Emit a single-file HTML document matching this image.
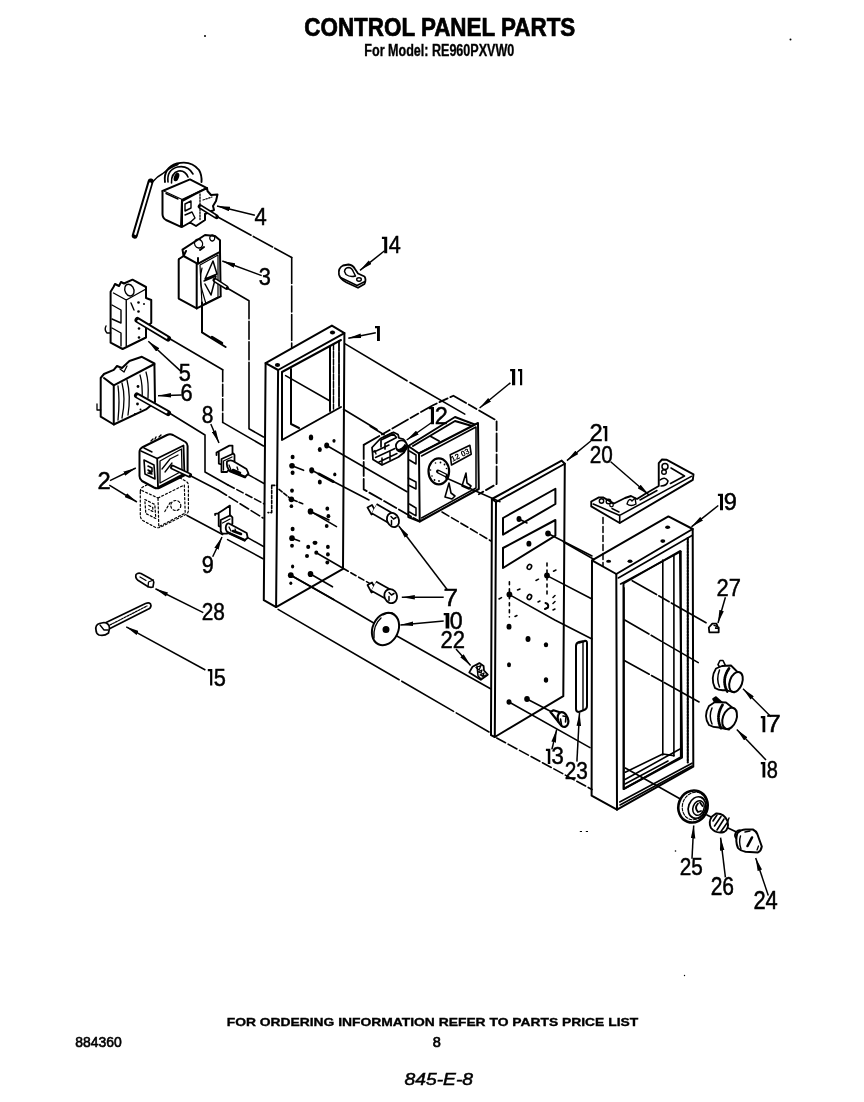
<!DOCTYPE html>
<html><head><meta charset="utf-8">
<style>
html,body{margin:0;padding:0;background:#fff;}
body{width:864px;height:1102px;overflow:hidden;position:relative;}
svg{position:absolute;left:0;top:0;will-change:transform;}
text{font-family:"Liberation Sans",sans-serif;fill:#000;}
</style></head><body>
<svg width="864" height="1102" viewBox="0 0 864 1102">
<defs>
<marker id="ah" viewBox="0 0 13 5" refX="13" refY="2.5" markerWidth="13" markerHeight="5" markerUnits="userSpaceOnUse" orient="auto"><path d="M0,0.2 L13,2.5 L0,4.8 z" fill="#000"/></marker>
</defs>
<rect width="864" height="1102" fill="#fff"/>
<!-- TITLES -->
<text x="304.3" y="36.2" font-size="25.5" font-weight="bold" textLength="271" lengthAdjust="spacingAndGlyphs" stroke="#000" stroke-width="0.7">CONTROL PANEL PARTS</text>
<text x="364.3" y="55.6" font-size="16" font-weight="bold" textLength="150" lengthAdjust="spacingAndGlyphs" stroke="#000" stroke-width="0.35">For Model: RE960PXVW0</text>
<text x="226.7" y="1026.2" font-size="10" font-weight="bold" textLength="411.5" lengthAdjust="spacingAndGlyphs" stroke="#000" stroke-width="0.3">FOR ORDERING INFORMATION REFER TO PARTS PRICE LIST</text>
<text x="75.3" y="1047.3" font-size="13.8" textLength="46.5" lengthAdjust="spacingAndGlyphs" stroke="#000" stroke-width="0.6">884360</text>
<text x="432.8" y="1047" font-size="14.5" stroke="#000" stroke-width="0.7">8</text>
<text x="404.5" y="1085" font-size="16" font-style="italic" textLength="68.5" lengthAdjust="spacingAndGlyphs" stroke="#000" stroke-width="0.5">845-E-8</text>
<circle cx="205" cy="36" r="1" fill="#000"/>
<circle cx="790.5" cy="39.5" r="1" fill="#000"/>
<circle cx="675.5" cy="851" r="0.8" fill="#000"/>
<circle cx="684.5" cy="975.5" r="0.7" fill="#000"/>
<rect x="579.8" y="831" width="2.2" height="1" fill="#000"/><rect x="585.8" y="831" width="2.2" height="1" fill="#000"/>
<g id="diagram" fill="none" stroke="#000" stroke-width="2" stroke-linejoin="round" stroke-linecap="round">

<!-- PART 4 thermostat -->
<g id="p4">
<path d="M150.6,181.5 L134.75,235.6" stroke-width="6"/>
<path d="M150.2,183.5 L135.3,234" stroke="#fff" stroke-width="2.2"/>
<path d="M153,181.5 C156,178 159,175.5 162.5,173.75 C167,170 172,166.5 178,164.5" stroke-width="1.4"/>
<path d="M165,182 Q163,168 177,163.5 Q191,160 199,170 Q202,175 201.5,182" stroke-width="1.9"/>
<path d="M168,182 Q166.5,170 177.5,167 Q188,165 193,174" stroke-width="1.6"/>
<path d="M171.5,183 Q171,173 178.5,171 Q185,170 188,177" stroke-width="1.6"/>
<ellipse cx="176.5" cy="177" rx="2.5" ry="4.5" fill="#000" stroke="none" transform="rotate(20 176.5 177)"/>
<path d="M162.5,191 L190,179.4 L207,188.1 L182,200 Z" fill="#fff"/>
<path d="M162.5,191 L162.5,214 Q162.5,218 166,220 L181,226.9 L182,200" fill="#fff"/>
<path d="M166,193.5 L178,199" stroke-width="1.4"/>
<path d="M182,201 L195,194 L207,188 L207.5,191 L211,195 L217.5,194.5 L216,201 L213,206 L214,210 L205,214 L205,220 L196,226 L190,222.5 L182,227 Z" fill="#fff"/>
<path d="M185,204 L191,201 L191,208 L185,211 Z" stroke-width="1.4"/>
<path d="M185,215 L192,212 L195,218 L190,222.5" stroke-width="1.4"/>
<path d="M200,194 L200,221" stroke-width="1.3" stroke-dasharray="1.5,1.5"/>
<path d="M203,200 L212,197" stroke-width="1.2" stroke-dasharray="1.5,1.5"/>
<path d="M200,206.5 L216.5,216.8" stroke-width="4.8"/>
<path d="M201,207.2 L215.8,216.3" stroke="#fff" stroke-width="1.5"/>
</g>
<!-- PART 3 switch -->
<g id="p3">
<path d="M182.5,249.6 L205,235 L215,236 L220,240.3 L220,251.8 L197.8,263.8 L183.6,256 Z" fill="#fff"/>
<path d="M184,255 L186,251 M198,263 L198,258 M200,250 L204,247"/>
<path d="M198.5,248 a4,4.5 -30 1,1 1,0 Z" stroke-width="1.3"/>
<path d="M212,241 a2.5,3 0 1,1 0.5,0 Z" stroke-width="1.3"/>
<path d="M178.7,259.4 L178.7,298.6 L196.7,308.4 L220.7,296.4 L220,251.8"/>
<path d="M179,259 L183.6,256 M196.7,263.8 L196.7,308.4"/>
<path d="M200,265 L218,255 L218,297 L202,305 Z" stroke-width="1.2"/>
<path d="M202,268 Q199,280 202,290 L206,304" stroke-width="1.2"/>
<path d="M213,261 L205,279 L217,274 Z M204,281 L216,276 L211,295 L205,284" stroke-width="1.5"/>
<path d="M214.7,280 L226.6,287.7" stroke-width="4.5"/>
<path d="M215.5,280.5 L226,287.2" stroke="#fff" stroke-width="1.5"/>
<path d="M202,302.4 L202,332.4 L225.6,347"/>
<path d="M212,337 L222,343" stroke-width="2.5"/>
</g>
<!-- PART 5 -->
<g id="p5">
<path d="M110.6,291.7 L113.5,287 L115,284 L119,286 L121,282 L124,283.5 L132.5,279.7 L146,287 L146,298 L151.25,300 L151.25,323 L146,327 L146,337.5 L122.6,349 L110.6,342.7 Z" fill="#fff"/>
<path d="M113.5,293 L126.25,300 L146,289 M126.25,300 L126.25,346" stroke-width="1.4"/>
<path d="M112,305 L121,310 L121,323 L112,319 M112,328 L121,333 L121,346" stroke-width="1.4"/>
<path d="M130,296 a4.5,6 -20 1,1 0.5,0 Z M131,303 L134,310" stroke-width="1.4"/>
<g fill="#000" stroke="none"><circle cx="138.5" cy="302.5" r="1.3"/><circle cx="138.5" cy="311.5" r="1.3"/><circle cx="139" cy="328.5" r="1.3"/><circle cx="139" cy="337.5" r="1.3"/><circle cx="144" cy="304" r="1"/></g>
<path d="M106,326 Q104,330 107,333 L110.6,333" stroke-width="1.4"/>
<path d="M137.5,320 L168,338.5" stroke-width="6"/>
<path d="M138.3,320.8 L166.5,337.6" stroke="#fff" stroke-width="2.2"/>
</g>
<!-- PART 6 -->
<g id="p6">
<path d="M100.7,378 L104,374 L113.75,369.8 L117,366 L122,368 L129.4,361 L141.9,356.8 L154.4,363.5 L155,402 L146,409.4 L113.75,424.5 L100.7,416.7 Z" fill="#fff"/>
<path d="M104,378 L113.75,385.4 L154.4,364 M113.75,385.4 L113.75,424.5"/>
<path d="M118,386 Q120,400 118,420 M122,383 Q126,398 122,418 M127,380 Q131,396 128,415" stroke-width="1.3"/>
<path d="M140,375 Q143,385 142,400 M146,372 Q149,382 148,398" stroke-width="1.3"/>
<path d="M97,404 L97,410 L100.7,410" stroke-width="1.3"/>
<path d="M120,369 L124,372 L127,366" stroke-width="1.3"/>
<path d="M137,395.5 L168,413" stroke-width="6"/>
<path d="M137.8,396.3 L166.5,412.2" stroke="#fff" stroke-width="2.2"/>
<g fill="#000" stroke="none"><circle cx="138" cy="386.5" r="1.4"/><circle cx="137.5" cy="404" r="1.4"/><circle cx="135" cy="414" r="1.1"/><circle cx="140.5" cy="409.5" r="1"/></g>
</g>
<!-- PART 2 -->
<g id="p2">
<g transform="translate(0.8,39.5)" stroke-width="1.2" stroke-dasharray="2,2.2" fill="none">
<path d="M139.5,452 Q139.5,449 142,447.5 L167,435 Q170,433.5 173,435 L185.5,442 Q187.6,443.5 187.6,446 L187.6,471 Q187.6,473.5 185,475 L160,487.5 Q157,489 154,487.5 L142,481 Q139.5,479 139.5,476 Z"/>
<path d="M157.2,458.5 L183.5,445.5 L184.4,473.6 L158,487.2 Z"/>
<path d="M144,460 L154,465 L155,479 L145,474 Z M148,466 L152,468 L152,472 L148,470"/>
<circle cx="175" cy="466" r="5"/>
<path d="M164,472 L170,462 M141,451 L157.2,458.5"/>
</g>
<path d="M139.5,452 Q139.5,449 142,447.5 L167,435 Q170,433.5 173,435 L185.5,442 Q187.6,443.5 187.6,446 L187.6,471 Q187.6,473.5 185,475 L160,487.5 Q157,489 154,487.5 L142,481 Q139.5,479 139.5,476 Z" fill="#fff" stroke-width="2"/>
<path d="M157.2,458.5 L183.5,445.5 L184.4,473.6 L158,487.2 Z" stroke-width="1.8"/>
<path d="M160,461 L181.5,449 L182,471 L160,483 Z" stroke-width="1.3"/>
<path d="M141,451 L157.2,458.5 M144,448 L152,452 M151,441 L153,439 M155,439 L156,437 M159,437 L161,435" stroke-width="1.4"/>
<path d="M144,460 L154,465 L155,479 L145,474 Z" stroke-width="1.6"/>
<path d="M148,466 L152,468 L152,472 L148,470 M148,470 L152,474 L148,473" stroke-width="1.6"/>
<path d="M162,469 L170,459 L178,455 M165,472 L172,463" stroke-width="1.3"/>
<path d="M172.6,467.2 L189.5,475.2" stroke-width="5"/>
<path d="M173,467.5 L189,475" stroke="#fff" stroke-width="1.8"/>
</g>

<!-- ROUTING LINES LEFT -->
<g id="routeL" stroke-width="1.6">
<path d="M216,216 L291.7,257.5" stroke-dasharray="40,2.5,22,2.5,200"/>
<path d="M291.7,257.5 L291.7,348" stroke-dasharray="26,2.5"/>
<path d="M226.6,287.7 L249,300.8 L249,428.8 L263.5,437" stroke-dasharray="44,2.5,18,2.5,18,2.5,200"/>
<path d="M168.5,338 L222.7,369.8"/>
<path d="M222.7,369.8 L222.7,422.4" stroke-dasharray="12,2.5"/>
<path d="M222.7,422.4 L263.5,446"/>
<path d="M168.5,412.5 L205,435 L205,472 L228,485"/>
<path d="M228,485 L264.4,504" stroke-dasharray="7,3"/>
<path d="M189.5,475.2 L218,490"/>
<path d="M218,490 L263,518" stroke-dasharray="10,3"/>
<path d="M187,515.5 L222.6,534.5"/>
<path d="M227.6,539.6 L263,558.7"/>
</g>


<!-- PANEL 1 HOLES -->
<g id="p1holes" fill="#000" stroke="none">
<ellipse cx="311" cy="437.4" rx="2.2" ry="2.9"/>
<ellipse cx="319.8" cy="449.5" rx="2.0" ry="2.5"/>
<ellipse cx="326.7" cy="445.5" rx="2.5" ry="2.9"/>
<ellipse cx="334" cy="440.8" rx="1.6" ry="1.9"/>
<ellipse cx="292.6" cy="457" rx="2.0" ry="2.2"/>
<ellipse cx="292" cy="465.7" rx="2.8" ry="2.8"/>
<ellipse cx="292.6" cy="472.7" rx="2.0" ry="2.2"/>
<ellipse cx="311.7" cy="470.3" rx="2.5" ry="3.1"/>
<ellipse cx="334.8" cy="474.4" rx="1.6" ry="1.9"/>
<ellipse cx="319.8" cy="482" rx="2.0" ry="2.5"/>
<ellipse cx="292" cy="490.6" rx="1.9" ry="2.2"/>
<ellipse cx="291.4" cy="499.3" rx="2.8" ry="2.9"/>
<ellipse cx="291.4" cy="506.2" rx="1.8" ry="1.9"/>
<ellipse cx="310.5" cy="511.4" rx="2.8" ry="3.1"/>
<ellipse cx="327.3" cy="508.7" rx="1.9" ry="2.1"/>
<ellipse cx="328.4" cy="516.2" rx="1.9" ry="2.1"/>
<ellipse cx="326.7" cy="526" rx="1.9" ry="2.1"/>
<ellipse cx="292.6" cy="529" rx="2.0" ry="2.2"/>
<ellipse cx="292" cy="538.2" rx="2.8" ry="2.9"/>
<ellipse cx="292" cy="545.7" rx="1.9" ry="2.0"/>
<ellipse cx="315" cy="542.8" rx="2.5" ry="2.1"/>
<ellipse cx="308.2" cy="546.9" rx="2.0" ry="2.1"/>
<ellipse cx="307" cy="556" rx="2.0" ry="2.1"/>
<ellipse cx="316.3" cy="552.7" rx="2.0" ry="2.1"/>
<ellipse cx="327.9" cy="546.9" rx="1.9" ry="2.1"/>
<ellipse cx="327.9" cy="554.4" rx="1.9" ry="2.1"/>
<ellipse cx="327.3" cy="562.5" rx="1.9" ry="2.0"/>
<ellipse cx="292.6" cy="566.5" rx="1.6" ry="1.9"/>
<ellipse cx="290.8" cy="575.2" rx="2.9" ry="2.9"/>
<ellipse cx="290.8" cy="583.3" rx="1.5" ry="1.8"/>
<ellipse cx="310.5" cy="574" rx="2.8" ry="3.1"/>
</g>
<!-- PANEL 1 LINES through -->
<g id="p1lines" stroke-width="1.6">
<path d="M285.6,375.6 L330,401"/>
<path d="M343.5,409.3 L377,429.5"/>
<path d="M370.2,426.2 L384.1,434.8"/>
<path d="M345.2,343.9 L407,380.8 M410,382.5 L464.8,414.1"/>
<path d="M326.7,445.5 L407,491.75"/>
<path d="M292,465.7 L303.6,470.3"/>
<path d="M311.7,470.3 L343,486.5 L369,500" />
<path d="M319,474 L333,481.5" stroke-width="3"/>
<path d="M279,489.4 L291.4,499.3 L303.6,504" stroke-dasharray="4,2"/>
<path d="M310.5,511.4 L329,520"/>
<path d="M310.5,511.4 L336.5,526.6"/>
<path d="M292,538.2 L299.5,541"/>
<path d="M316.3,552.7 L343,568.3"/>
<path d="M343,568.3 L370.5,583.9" stroke-dasharray="6,3"/>
<path d="M290.8,575.2 L333.7,599.5"/>
<path d="M310.5,574 L332.5,586.8"/>
<path d="M290.8,575.2 L340,603.3 L373.3,622.8" stroke-dasharray="0"/>
<path d="M385.8,629.7 L491,689"/>
<path d="M278.1,609.4 L489,732" stroke-dasharray="140,3,60,3,40,3,300"/>
<path d="M271.7,485.4 L277,485.4 M271.7,485.4 L271.7,512.6 L268,512.6" stroke-dasharray="3,2"/>
</g>
<!-- PART 11 bracket dashed + timer -->
<g id="p11">
<path d="M363.7,444.9 L433,405.2 L453.4,395.7 L496.6,420.5 L496.6,484 L478.8,494.2" stroke-dasharray="18,3,9,3" stroke-width="1.8"/>
<path d="M363.7,444.9 L363.7,489.4 L419,521" stroke-dasharray="14,3" stroke-width="1.8"/>
<path d="M408.3,446 L455,417 L476,425 L419,453.5 Z" fill="#fff"/>
<path d="M413,446 L455,421 L472,426 M430,436 L439,441"/>
<path d="M408.3,446 L408.3,517 L419.7,521.5"/>
<path d="M409.4,451 L416,455 L416,464 L409.4,460 M408.3,478 L416,482 L416,489 L408.3,485 M409.4,504 L416,508 L416,515.8 L409.4,512" stroke-width="1.5"/>
<path d="M419,453.5 L478,423 L478.8,489 L419.7,521.5 Z" fill="#fff"/>
<path d="M421.5,456 L476,427 L476,488 L421.5,518" stroke-width="1.5"/>
<ellipse cx="438.8" cy="471.3" rx="10.3" ry="13" stroke-width="2.2"/>
<g fill="#000" stroke="none"><circle cx="440.5" cy="462.5" r="0.9"/><circle cx="444.5" cy="464.5" r="0.9"/><circle cx="446.5" cy="468.5" r="0.8"/><circle cx="432" cy="476" r="0.8"/><circle cx="434.5" cy="480" r="0.9"/><circle cx="439" cy="481" r="0.9"/><circle cx="430.5" cy="470" r="0.8"/><circle cx="435.5" cy="463" r="0.8"/></g>
<path d="M438,471.5 L446,475.5" stroke-width="4"/>
<path d="M438.8,471.9 L445.3,475.1" stroke="#fff" stroke-width="1.4"/>
<path d="M445.7,477.7 L500,501.8" stroke-width="1.5"/>
<path d="M450.2,454.8 L469.9,445.3 L471.2,454.2 L451.5,465 Z" stroke-width="1.6"/>
<text transform="translate(452.5,462) rotate(-27)" font-size="8" fill="#000" stroke="none" font-weight="bold">12 03</text>
<path d="M449,483 L445,497 L452,499 L455,496 L451,493 Z M466,473 L462,486 L469,489 L471,486 L467,483 Z" stroke-width="1.6"/>
</g>
<path d="M442,512 L491,541" stroke-dasharray="8,3" stroke-width="1.6"/>
<!-- PART 12 clip -->
<g id="p12" stroke-width="1.8">
<path d="M372,447.5 L380.5,438.5 L393.5,432.3 L398,434.5 L399,438 L403,439 Q407,442 406.5,448 L404,452.5 L398.5,457 L382,465 L373,459.5 L372.5,452 Z" fill="#fff"/>
<path d="M381,447 L381,440 L393.5,434 L396.5,437.5 L385,443.5 L385,449" stroke-width="1.7"/>
<path d="M384,437 L392,433" stroke-width="1.5"/>
<circle cx="401.5" cy="446" r="5.6" fill="#fff" stroke-width="1.8"/>
<path d="M396.5,449.5 Q401,455 406.5,447.5 L405,444.5 Q402,450 396.5,449.5 Z" fill="#000" stroke-width="1.2"/>
<path d="M374,452 L389,445 M375.5,457.5 L395,448.5 M379,462 L397,453.5 M382,458 L382,464.5 M390,452 L390,460" stroke-width="1.5"/>
<path d="M372.5,452 L375,450.5 L376,454" stroke-width="1.3"/>
</g>
<!-- PLUNGERS 7 -->
<g id="p7">
<path d="M367.5,507.5 L372,505 L376,512 L371.5,514.5 Z" fill="#fff" stroke-width="1.7"/>
<path d="M374,508.5 L393,519.5" stroke-width="12" stroke-linecap="butt"/>
<path d="M374.3,508.7 L393,519.5" stroke="#fff" stroke-width="8.6" stroke-linecap="butt"/>
<ellipse cx="393" cy="520" rx="5.8" ry="7.3" transform="rotate(-25 393 520)" fill="#fff" stroke-width="1.8"/>
<path d="M391,516.5 L393.5,519 L396,517.5 M391.5,524.5 L391.5,520.5" stroke-width="1.5"/>
<path d="M367.5,585 L372,582.5 L376,590 L371.5,592.5 Z" fill="#fff" stroke-width="1.7"/>
<path d="M373.5,586 L390.5,595.5" stroke-width="12" stroke-linecap="butt"/>
<path d="M373.8,586.2 L390.5,595.5" stroke="#fff" stroke-width="8.6" stroke-linecap="butt"/>
<ellipse cx="390.7" cy="596.1" rx="6.2" ry="7.2" transform="rotate(-25 390.7 596.1)" fill="#fff" stroke-width="1.8"/>
<path d="M389,592.5 L391.5,595 L394,593.5 M389,600.5 L389,596.5" stroke-width="1.5"/>
</g>
<!-- DISK 10 -->
<g id="p10">
<ellipse cx="385.5" cy="629" rx="12.8" ry="16.8" transform="rotate(25 385.5 629)" fill="#fff"/>
<path d="M374,638 Q373,625 381,618 M383,615 Q390,611 394,614" stroke-width="1.4"/>
<ellipse cx="386" cy="629.5" rx="2.5" ry="2.5" fill="#000"/>
</g>
<!-- PART 22 -->
<g id="p22" stroke-width="1.8">
<path d="M469.3,672.4 L472.5,666.8 L479.4,663.1 L483.6,665.9 L484,670.5 L487.8,674.7 L480.8,679.8 Z" fill="#fff"/>
<path d="M476,667.5 L481,665.5 L479,670 Z M478,672 L482,670 L481,673 Z M480,675 L484,673 L483,676 Z M482,677 L486,675" stroke-width="1.3"/>
<path d="M477,666 L478,676 L481,679" stroke-width="1.5"/>
</g>


<!-- PANEL 21 HOLES & LINES -->
<g id="p21holes" fill="#000" stroke="none">
<ellipse cx="519" cy="519" rx="2.5" ry="2.9"/>
<ellipse cx="528.9" cy="543.7" rx="2.5" ry="2.9"/>
<ellipse cx="548" cy="533.5" rx="2.8" ry="2.9"/>
<ellipse cx="547" cy="575.6" rx="2.9" ry="3.0"/>
<ellipse cx="509.4" cy="594.6" rx="2.9" ry="3.0"/>
<ellipse cx="509" cy="626.7" rx="2.5" ry="2.9"/>
<ellipse cx="528" cy="639" rx="2.5" ry="2.9"/>
<ellipse cx="546" cy="644.8" rx="2.2" ry="2.5"/>
<ellipse cx="509" cy="664.8" rx="2.0" ry="2.5"/>
<ellipse cx="546" cy="680" rx="2.2" ry="2.8"/>
<ellipse cx="509" cy="702" rx="2.5" ry="2.8"/>
<ellipse cx="527" cy="699" rx="2.8" ry="3.0"/>
</g>
<g id="p21lines" stroke-width="1.6">
<ellipse cx="529.4" cy="566.9" rx="2" ry="2.6" transform="rotate(30 529.4 566.9)"/>
<ellipse cx="529.4" cy="597" rx="2" ry="2.6" transform="rotate(30 529.4 597)"/>
<path d="M545.5,603 Q549,604 548,607.5 L545,609" stroke-width="2"/>
<path d="M519,519 L527,523"/>
<path d="M509.4,581.7 L509.4,617 M547,563 L547,597.4" stroke-dasharray="3,4"/>
<path d="M517.5,590 L520,589 M536,580.5 L538.5,579.2 M553.5,571.2 L556,570 M499,599 L501.5,597.6 M538,602 L540,601 M553,597.5 L555,595.5 M553,603.5 L555,601.5 M515,616.5 L517,615.5 M553,610 L555,609" stroke-width="1.5"/>
<path d="M548,533.5 L592,556"/>
<path d="M547,575.6 L592,599"/>
<path d="M509.4,594.6 L554.8,620 L592,639" />
<path d="M509,702 L590,747.6"/>
<path d="M527,699 L553.8,713"/>
<path d="M496.7,738 L592,789.5" stroke-dasharray="10,3"/>
<path d="M593.3,559 L563.5,542"/>
</g>
<!-- PART 13 screw -->
<g id="p13" stroke-width="2.2">
<path d="M550.5,712 L553.5,710.3 L559,712 L563,716 L558.5,722 Z" fill="#fff"/>
<ellipse cx="563" cy="719.5" rx="5" ry="7.6" transform="rotate(-20 563 719.5)" fill="#fff"/>
<path d="M560.5,719 L561.5,725 M563,716 L566,716.5 L565.5,722" stroke-width="1.6"/>
</g>
<!-- PART 23 rod -->
<g id="p23">
<path d="M576,646 L576,709 Q576,712 579,712 L584,710 Q587,709 587,706 L587,643 Q587,640 584,641 L579,642 Q576,643 576,646 Z" fill="#fff"/>
<path d="M583,641.5 L583,709.5" stroke-width="1.4"/>
<path d="M579,643 L586,641" stroke-width="1.4"/>
</g>
<!-- PART 20 bracket -->
<g id="p20" stroke-width="1.9">
<path d="M591.25,501.5 L598.9,497.4 L603,497.4 L614,503.5 L625,498 L631,496 L637,499 L645,494 L658.75,486 L658.75,463.2 L662,459.5 L666.4,459.7 L693.5,474.3 L692.8,479.9 L619.7,523 L591.25,506.4 Z" fill="#fff"/>
<path d="M593.3,504 L619.7,515.4 L691.4,476.4 M619.7,515.4 L619.7,523" stroke-width="1.6"/>
<path d="M612,508.5 L619,512 M640,500 L657,490.5" stroke-width="1.5"/>
<path d="M671,468 L684.5,476 L670.5,483.5" stroke-width="1.6"/>
<circle cx="601.5" cy="501" r="2.2" stroke-width="1.4"/>
<circle cx="608.5" cy="501.5" r="2.3" stroke-width="1.4"/>
<circle cx="611.5" cy="505" r="1.8" stroke-width="1.3"/>
<path d="M627,504 Q629,497 632,501 L635,498 L636,504 Q631,507 627,504 Z" stroke-width="1.4"/>
<circle cx="665" cy="466.5" r="3" stroke-width="1.5"/>
<circle cx="664" cy="472" r="2.3" stroke-width="1.4"/>
<path d="M660,480 Q665,476 668,481 Q667,486 661,486" stroke-width="1.5"/>
<path d="M603,517.5 L603,566" stroke-dasharray="6,3" stroke-width="1.5"/>
</g>
<!-- FRAME 19 details -->
<g id="p19d" stroke-width="1.6">
<path d="M618.3,578 L692,535.5 M620.6,584 L680.8,551.5"/>
<path d="M623.9,588 L623.9,789 L680.8,757 L680.8,551.5" stroke-width="1.8"/>
<path d="M662.8,560 L662.8,755 M673.9,555 L673.9,756"/>
<path d="M625.3,772.2 L662.8,754 L673.9,755.6 M625,779.5 L680,749 M625,784 L668,761"/>
<path d="M687.8,538 L687.8,762.5" stroke-dasharray="2,1.2" stroke-width="2.2"/>
<path d="M619.7,802 L692,763.2 M620,805 L692,766"/>
<ellipse cx="608.6" cy="561.25" rx="2.5" ry="1.6" fill="#000" stroke="none"/>
<ellipse cx="630" cy="561.25" rx="2.5" ry="1.8" fill="#000" stroke="none"/>
<ellipse cx="662.8" cy="541.1" rx="2.5" ry="1.8" fill="#000" stroke="none"/>
<ellipse cx="667.6" cy="527.2" rx="2.5" ry="1.7" fill="#000" stroke="none"/>
<path d="M632.2,580.7 L710,625" stroke-dasharray="28,2.5,12,2.5,40"/>
<path d="M624.75,620 L712.6,671" stroke-dasharray="28,2.5,12,2.5,40"/>
<path d="M624.75,660.7 L707.5,706.6" stroke-dasharray="28,2.5,12,2.5,40"/>
<path d="M625.3,768 L680.8,799.3"/>
</g>
<!-- PART 27 -->
<path d="M709.3,632.3 L708.8,627.5 L712.3,623.6 L716.5,623.6 L717.8,627 L718.7,627.6 L718.7,632.3 Z" fill="#fff" stroke-width="1.8"/>
<path d="M714,625.3 L716.5,626.2 L715.5,628.3 L718.5,628.3" stroke-width="1.3"/>
<!-- KNOBS 17/18 -->
<g id="k17" stroke-width="1.8">
<path d="M718,664.5 L720,660.5 L723,660.5 L727,668.8 L721,669.5 Z" fill="#fff" stroke-width="1.6"/>
<path d="M716,668.5 Q710,678 715,688 Q719,691 726,690 L734,692.5 L741.5,676 L731,665.5 L722,666 Z" fill="#fff"/>
<path d="M719.5,670 Q716,679 719.5,687" stroke-width="1.5"/>
<path d="M729,668.5 Q721,680 727.5,692" stroke-width="2.8" stroke-dasharray="1.3,1"/>
<ellipse cx="736" cy="682" rx="6.2" ry="10.4" transform="rotate(20 736 682)" fill="#fff" stroke-width="2"/>
</g>
<g id="k18" stroke-width="1.8">
<path d="M713,699 L716,697 L725,705 L718,708 Z" fill="#000" stroke-width="1.6"/>
<path d="M709,706 Q703,716 709,725 Q713,727.5 719,727.5 L729,729.7 L736.5,711 L726,702.5 L715,702 Z" fill="#fff"/>
<path d="M712,708 Q708.5,716 712,724" stroke-width="1.5"/>
<path d="M722.5,705 Q715,717 721.5,729" stroke-width="2.8" stroke-dasharray="1.3,1"/>
<ellipse cx="729.6" cy="718.4" rx="6.8" ry="11" transform="rotate(20 729.6 718.4)" fill="#fff" stroke-width="2"/>
</g>
<!-- KNOB 25, SPRING 26, KNOB 24 -->
<g id="k25" stroke-width="1.8">
<ellipse cx="693" cy="806.5" rx="14.5" ry="16.2" transform="rotate(20 693 806.5)" fill="#fff" stroke-width="2.6"/>
<ellipse cx="694.5" cy="806" rx="12" ry="14" transform="rotate(20 694.5 806)" stroke-width="1.1" stroke-dasharray="3,1.5"/>
<ellipse cx="697" cy="807.5" rx="8.5" ry="11" transform="rotate(20 697 807.5)" stroke-width="1.7"/>
<ellipse cx="698.5" cy="808" rx="5.5" ry="7.5" transform="rotate(20 698.5 808)" stroke-width="1.5"/>
<path d="M698,803.5 Q694,808 698,812 L701,811 M700,802.5 L702.5,806" stroke-width="1.8"/>
<path d="M707,815 L711,817"/>
<path d="M712,816.5 Q708,822 711,828 Q716,834 724,832 Q729.5,829 727.5,821 Q724,813 716,813.5 Z" fill="#fff" stroke-width="1.9"/>
<path d="M713,821 L717,815 M714.5,826 L721,816.5 M717,830 L724,819 M721,831.5 L727,823" stroke-width="1.6"/>
<path d="M727.5,822 L729,818" stroke-width="1.4"/>
<path d="M728,828 L736.5,832"/>
<ellipse cx="739" cy="834.8" rx="3.8" ry="4.6" transform="rotate(25 739 834.8)" fill="#fff" stroke-width="1.9"/>
<path d="M737.3,833.2 Q741,829.5 745.5,829.5 L752.9,829.5 Q756,831 757.3,834 L761.8,846.5 Q761,851 758,852.4 L745.5,851.7 Q740,850.5 738,848 Q735,841 737.3,833.2 Z" fill="#fff" stroke-width="2"/>
<path d="M740.5,836 Q738.5,842 741,849 M745,832 L750,831" stroke-width="1.4"/>
<path d="M752,837.5 L747.5,846" stroke-width="2.6"/>
<path d="M758.5,846 L757,850" stroke-width="1.3"/>
</g>
<!-- PART 14 -->
<g id="p14" stroke-width="1.8">
<path d="M339,274.5 Q338,268 343,265.5 L348.5,264.5 Q353,265 355,269 L358,273.5 L364.5,276.5 Q366.5,279.5 364.5,284 L358,287.8 L346.5,282.5 Q340,279 339,274.5 Z" fill="#fff"/>
<path d="M344.5,271.5 Q345,267.5 349,267.5 Q352,268 353.5,272 L355.5,276 Q350,277.5 346,274.5 Z" stroke-width="1.5"/>
<path d="M340.5,277.5 L357,285.5 L365,281.5" stroke-width="1.4"/>
<ellipse cx="359" cy="279.5" rx="2.3" ry="1.7" stroke-width="1.4"/>
</g>
<!-- PART 8 / 9 screws -->
<g id="p8" stroke-width="1.8">
<path d="M216.5,455 L216.5,452.5 L229.4,445.6 L232.5,445.6 L232.5,454 M218.8,452.5 L218.8,463.6 L221.5,464.5"/>
<path d="M221.5,472 L221.5,459 L233.5,453.5 L234.5,455 L234.5,462 L227,472 Z" fill="#fff"/>
<path d="M223.5,470 L223.5,461 L232,457" stroke-width="1.3"/>
<path d="M227,461.5 Q230,459.5 233,461 L246.5,469 L248.5,473.5 L245,477 L230,471 Q226,467 227,461.5 Z" fill="#fff"/>
<path d="M230,471 L245,477 M233,470 L240,473" stroke-width="2.6"/>
<path d="M229,465 L231,470 M237,467 L238,470" stroke-width="1.3"/>
</g>
<g id="p9" stroke-width="1.8">
<path d="M215.1,515 L215.1,513.8 L218.2,513.3 L229.9,505.6 L229.9,515.3 M218.7,513.3 L218.7,526 L220.7,527"/>
<path d="M220.7,531 L220.7,520 L230.4,515.3 L232.4,517.4 L232.4,523.5 L227.3,533.6 L222,533.6 Z" fill="#fff"/>
<path d="M222.5,523 L230,519" stroke-width="1.3"/>
<path d="M226,526 Q227,523 229,523.5 L246.7,533 L247.7,537.7 L244.7,540.3 L228,532.6 Q225,530 226,526 Z" fill="#fff"/>
<path d="M228,532.6 L244.7,540.3 M233,531 L241,534" stroke-width="2.6"/>
<path d="M229,527 L231,531 M235,529 L236,532" stroke-width="1.3"/>
</g>
<g stroke-width="1.5">
<path d="M248,474.5 L264,483.5" />
<path d="M247.7,537.7 L263.5,546.5" />
</g>
<!-- PART 28 -->
<g id="p28" stroke-width="1.6">
<path d="M136,574.5 Q135,578 137.5,580 L147,586 Q150,588 153,587 L153.8,582 Q153.5,580 151,579 L141,573.5 Q138,572.5 136,574.5 Z" fill="#fff"/>
<path d="M148,587 L148.5,582 L153.5,580 M140,577 L146,580.5" stroke-width="1.3"/>
</g>
<!-- PART 15 -->
<g id="p15" stroke-width="1.7">
<path d="M104,623.5 L145.5,603.5 Q150.5,601.8 151,605.5 Q151,608.3 147.5,609.5 L107,630" fill="#fff"/>
<path d="M107,626.5 L147,606" stroke-width="1.2" stroke-dasharray="2,1.2"/>
<path d="M96,630 Q95,625 99.5,623.5 L104,622.5 Q109,623 109.5,628 L108.5,633 Q104,636.5 99,635 Q96,633.5 96,630 Z" fill="#fff"/>
<path d="M100,625 L104,630 L108,630" stroke-width="1.3"/>
</g>

<!-- PANEL 1 -->
<path d="M265.6,363.1 L331.9,325.6 L344.4,333.1 L278.1,370 Z"/>
<path d="M265.6,363.1 L263.8,600.2 L276.1,607.1 L343,568.9 L344.4,333.1"/>
<path d="M278.1,370 L276.1,607.1"/>
<path d="M282,372 L341,340 M282,372 L282,440 L341,407"/>
<path d="M291,369 L291,424 L299,428"/>
<path d="M330,346 L330,411"/>
<path d="M333.5,344 L333.5,409" stroke-width="1.4" stroke-dasharray="6,1.5"/>
<path d="M339,341 L339,406" stroke-width="1.8" stroke-dasharray="10,1.5"/>
<ellipse cx="277.5" cy="365" rx="2.6" ry="1.9" fill="#000" stroke="none"/>
<ellipse cx="332.5" cy="332.5" rx="2.6" ry="1.9" fill="#000" stroke="none"/>
<!-- PANEL 21 -->
<path d="M491.9,499 L561.7,460.6 L564.8,463.75 L496,502 Z"/>
<path d="M491.9,499 L491,735.2 L494.8,737 L563.3,696.2 L564.8,463.75"/>
<path d="M496,502 L494.8,737"/>
<path d="M503,518 L555.4,488.75 L555.4,504 L503,534.6 Z"/>
<path d="M503,548 L555.4,520 L555.4,535.6 L503,568 Z"/>
<!-- FRAME 19 -->
<path d="M592,560.4 L668.4,516.4 L692.7,529 L616.3,574 Z"/>
<path d="M592,560.4 L591.6,795.7 L617,809.7 L693.3,766.7 L692.7,529"/>
<path d="M616.3,574 L617,809.7"/>
<path d="M623.5,583.5 L680,551 L682,757.5 L623.5,789 Z"/>
</g>

<g id="arrows" fill="none" stroke="#000" stroke-width="1.5" marker-end="url(#ah)">
<path d="M254.9,215.3 L217,206"/>
<path d="M261.7,275.6 L222.3,261"/>
<path d="M375.8,332.7 L348.3,338.3"/>
<path d="M384.6,250.75 L360,270.3"/>
<path d="M181,371.4 L148.3,341.2"/>
<path d="M181.7,395 L158,395.7"/>
<path d="M210.8,424 L219,443"/>
<path d="M110,480.6 L135.8,468"/>
<path d="M109.3,485.1 L136.9,502"/>
<path d="M212.7,556.7 L222,537"/>
<path d="M203.3,612.7 L155.4,588.75"/>
<path d="M205.4,670 L126.25,626.8"/>
<path d="M510.4,382.8 L479.6,408"/>
<path d="M431.7,422.5 L406.7,440"/>
<path d="M590.8,441 L566.9,460.6"/>
<path d="M610.7,461.8 L649,495"/>
<path d="M718.3,505.5 L691.5,526.8"/>
<path d="M725.4,597.3 L718,623"/>
<path d="M447.5,590 L398.75,526"/>
<path d="M443.7,597.3 L401.8,597.3"/>
<path d="M443.7,621 L400.4,625"/>
<path d="M456,649 L470.6,665.4"/>
<path d="M771,716.8 L743,688.75"/>
<path d="M766,760 L736.8,729.5"/>
<path d="M551.9,749.4 L556.7,729.5"/>
<path d="M576.9,761.6 L579.5,713"/>
<path d="M692,858.7 L693.7,825.5"/>
<path d="M725.4,877.4 L720.6,837.6"/>
<path d="M768.3,895.5 L755.7,858"/>
</g>
<g id="labels" font-size="22" stroke="#000" stroke-width="0.45" fill="#000">
<text transform="matrix(1.000,0,0,1.060,254.60,224.50)">4</text>
<text transform="matrix(0.991,0,0,1.120,258.71,284.50)">3</text>
<path d="M375.0,326.0 L379.9,326.0 L379.9,341.1 L377.0,341.1 L377.0,328.3 L375.0,328.3 Z" stroke="none"/>
<path d="M381.9,236.8 L387.2,236.8 L387.2,253.2 L384.2,253.2 L384.2,239.1 L381.9,239.1 Z" stroke="none"/>
<text transform="matrix(0.983,0,0,1.120,388.70,253.30)">4</text>
<text transform="matrix(0.991,0,0,1.100,178.71,381.20)">5</text>
<text transform="matrix(0.991,0,0,1.047,180.51,401.30)">6</text>
<text transform="matrix(0.955,0,0,1.053,201.75,422.50)">8</text>
<text transform="matrix(1.080,0,0,1.127,97.52,489.40)">2</text>
<text transform="matrix(0.982,0,0,1.120,201.72,572.50)">9</text>
<text transform="matrix(0.948,0,0,1.053,201.65,620.40)">28</text>
<path d="M207.8,669.0 L212.3,669.0 L212.3,685.4 L210.1,685.4 L210.1,671.3 L207.8,671.3 Z" stroke="none"/>
<text transform="matrix(0.991,0,0,1.120,213.71,685.50)">5</text>
<path d="M510.1,368.9 L515.2,368.9 L515.2,385.3 L512.0,385.3 L512.0,371.2 L510.1,371.2 Z" stroke="none"/>
<path d="M518.0,368.9 L522.2,368.9 L522.2,385.3 L520.0,385.3 L520.0,371.2 L518.0,371.2 Z" stroke="none"/>
<path d="M428.9,406.9 L434.0,406.9 L434.0,424.3 L430.9,424.3 L430.9,409.2 L428.9,409.2 Z" stroke="none"/>
<text transform="matrix(1.070,0,0,1.047,434.63,424.40)">2</text>
<text transform="matrix(1.080,0,0,1.053,589.52,441.40)">2</text>
<path d="M603.1,425.9 L607.3,425.9 L607.3,441.3 L604.8,441.3 L604.8,428.2 L603.1,428.2 Z" stroke="none"/>
<text transform="matrix(0.943,0,0,1.053,589.66,463.40)">20</text>
<path d="M717.9,493.8 L723.0,493.8 L723.0,510.3 L720.0,510.3 L720.0,496.1 L717.9,496.1 Z" stroke="none"/>
<text transform="matrix(1.073,0,0,1.127,723.63,510.40)">9</text>
<text transform="matrix(0.996,0,0,1.067,716.60,595.50)">27</text>
<text transform="matrix(1.190,0,0,1.060,443.51,606.40)">7</text>
<path d="M443.7,613.0 L449.3,613.0 L449.3,628.6 L445.6,628.6 L445.6,615.3 L443.7,615.3 Z" stroke="none"/>
<text transform="matrix(1.055,0,0,1.067,449.75,628.70)">0</text>
<text transform="matrix(1.000,0,0,1.060,440.60,647.50)">22</text>
<path d="M760.8,715.9 L765.3,715.9 L765.3,732.3 L762.5,732.3 L762.5,718.2 L760.8,718.2 Z" stroke="none"/>
<text transform="matrix(1.190,0,0,1.120,766.21,732.40)">7</text>
<path d="M760.8,762.0 L765.3,762.0 L765.3,777.4 L762.5,777.4 L762.5,764.3 L760.8,764.3 Z" stroke="none"/>
<text transform="matrix(0.909,0,0,1.053,766.79,777.50)">8</text>
<path d="M545.9,748.8 L550.3,748.8 L550.3,764.1 L547.8,764.1 L547.8,751.0 L545.9,751.0 Z" stroke="none"/>
<text transform="matrix(1.009,0,0,1.053,551.49,764.25)">3</text>
<text transform="matrix(0.948,0,0,1.093,564.65,778.90)">23</text>
<text transform="matrix(0.943,0,0,1.113,679.76,875.30)">25</text>
<text transform="matrix(0.957,0,0,1.133,710.64,894.60)">26</text>
<text transform="matrix(0.996,0,0,1.167,753.40,909.10)">24</text>

</g>
</svg>
</body></html>
